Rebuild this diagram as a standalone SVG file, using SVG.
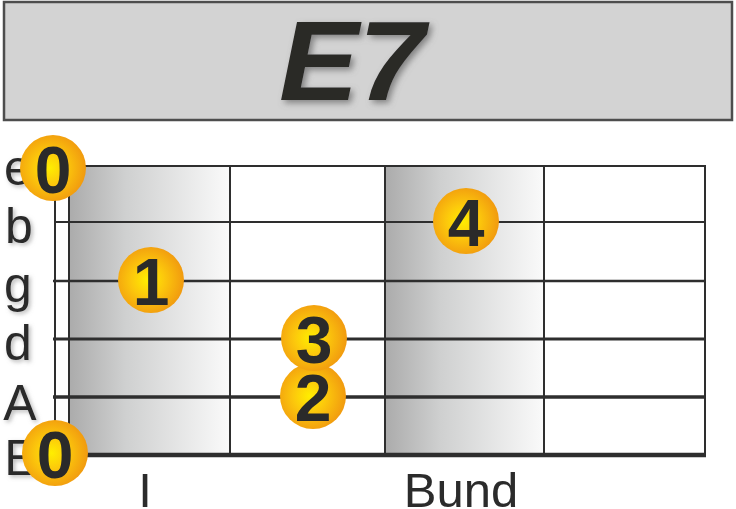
<svg xmlns="http://www.w3.org/2000/svg" width="736" height="509" viewBox="0 0 736 509">
  <defs>
    <linearGradient id="fretShade" x1="0" y1="0" x2="1" y2="0">
      <stop offset="0" stop-color="#ababab"/>
      <stop offset="0.35" stop-color="#cfd0d0"/>
      <stop offset="1" stop-color="#fafafa"/>
    </linearGradient>
    <radialGradient id="dotGrad" cx="0.45" cy="0.5" r="0.55">
      <stop offset="0" stop-color="#ffee00"/>
      <stop offset="0.45" stop-color="#fcc80c"/>
      <stop offset="1" stop-color="#f19a0f"/>
    </radialGradient>
    <filter id="titleShadow" x="-20%" y="-20%" width="140%" height="140%">
      <feGaussianBlur in="SourceAlpha" stdDeviation="3"/>
      <feOffset dx="3" dy="3" result="b"/>
      <feFlood flood-color="#6e6e6e" flood-opacity="0.8"/>
      <feComposite in2="b" operator="in" result="s"/>
      <feMerge><feMergeNode in="s"/><feMergeNode in="SourceGraphic"/></feMerge>
    </filter>
    <filter id="labelShadow" x="-30%" y="-30%" width="160%" height="160%">
      <feGaussianBlur in="SourceAlpha" stdDeviation="2"/>
      <feOffset dx="2" dy="2" result="b"/>
      <feFlood flood-color="#8a8a8a" flood-opacity="0.6"/>
      <feComposite in2="b" operator="in" result="s"/>
      <feMerge><feMergeNode in="s"/><feMergeNode in="SourceGraphic"/></feMerge>
    </filter>
  </defs>
  <style>
    .str { stroke: #2e2e2e; fill: none; }
    .fret { stroke: #2e2e2e; stroke-width: 2; fill: none; }
    .lbl { font-family: "Liberation Sans", Arial, sans-serif; font-size: 50px; fill: #2b2b2b; text-anchor: middle; }
    .bot { font-family: "Liberation Sans", Arial, sans-serif; font-size: 49px; fill: #2b2b2b; text-anchor: middle; }
    .dot { fill: url(#dotGrad); }
    .num { font-family: "Liberation Sans", Arial, sans-serif; font-weight: bold; font-size: 66px; fill: #2a2a2a; text-anchor: middle; }
  </style>

  <!-- title -->
  <g id="title">
    <rect x="4" y="2" width="728" height="118" fill="#d3d3d3" stroke="#4d4d4d" stroke-width="2.5"/>
    <text x="352" y="100" font-family="Liberation Sans, Arial, sans-serif" font-weight="bold" font-style="italic" font-size="113" fill="#2b2a28" text-anchor="middle" filter="url(#titleShadow)" textLength="146" lengthAdjust="spacingAndGlyphs">E7</text>
  </g>

  <!-- string labels -->
  <g id="string-labels" filter="url(#labelShadow)">
    <text class="lbl" x="18" y="185">e</text>
    <text class="lbl" x="19" y="243">b</text>
    <text class="lbl" x="18" y="302">g</text>
    <text class="lbl" x="18" y="360">d</text>
    <text class="lbl" x="20" y="420">A</text>
    <text class="lbl" x="21" y="475">E</text>
  </g>

  <!-- fretboard -->
  <g id="fretboard">
    <rect x="69" y="166" width="161" height="289" fill="url(#fretShade)"/>
    <rect x="385" y="166" width="159" height="289" fill="url(#fretShade)"/>
    <line class="fret" x1="55" y1="166" x2="55" y2="455" stroke-width="1.8"/>
    <line class="fret" x1="69" y1="166" x2="69" y2="455" stroke-width="2.2"/>
    <line class="fret" x1="230" y1="166" x2="230" y2="455"/>
    <line class="fret" x1="385" y1="166" x2="385" y2="455"/>
    <line class="fret" x1="544" y1="166" x2="544" y2="455"/>
    <line class="fret" x1="705" y1="165" x2="705" y2="457" stroke-width="3"/>
    <line class="str" x1="55" y1="166" x2="706" y2="166" stroke-width="2.2"/>
    <line class="str" x1="55" y1="222" x2="706" y2="222" stroke-width="2.2"/>
    <line class="str" x1="53" y1="281" x2="706" y2="281" stroke-width="2.6"/>
    <line class="str" x1="53" y1="339" x2="706" y2="339" stroke-width="3"/>
    <line class="str" x1="53" y1="397" x2="706" y2="397" stroke-width="3.6"/>
    <line class="str" x1="55" y1="455" x2="706" y2="455" stroke-width="4.5"/>
  </g>

  <!-- fret labels -->
  <g id="fret-labels">
    <text class="bot" x="145" y="507">I</text>
    <text class="bot" x="461" y="507">Bund</text>
  </g>

  <!-- fingering dots -->
  <g id="dot-open-e">
    <circle class="dot" cx="53" cy="168" r="33"/>
    <text class="num" x="53" y="193">0</text>
  </g>
  <g id="dot-open-E">
    <circle class="dot" cx="55" cy="453" r="33"/>
    <text class="num" x="55" y="478">0</text>
  </g>
  <g id="dot-1">
    <circle class="dot" cx="151" cy="280" r="33"/>
    <text class="num" x="151" y="305">1</text>
  </g>
  <g id="dot-4">
    <circle class="dot" cx="466" cy="221" r="33"/>
    <text class="num" x="466" y="246">4</text>
  </g>
  <g id="dot-2">
    <circle class="dot" cx="313" cy="396" r="33"/>
    <text class="num" x="313" y="421">2</text>
  </g>
  <g id="dot-3">
    <circle class="dot" cx="314" cy="338" r="33"/>
    <text class="num" x="314" y="363">3</text>
  </g>
</svg>
